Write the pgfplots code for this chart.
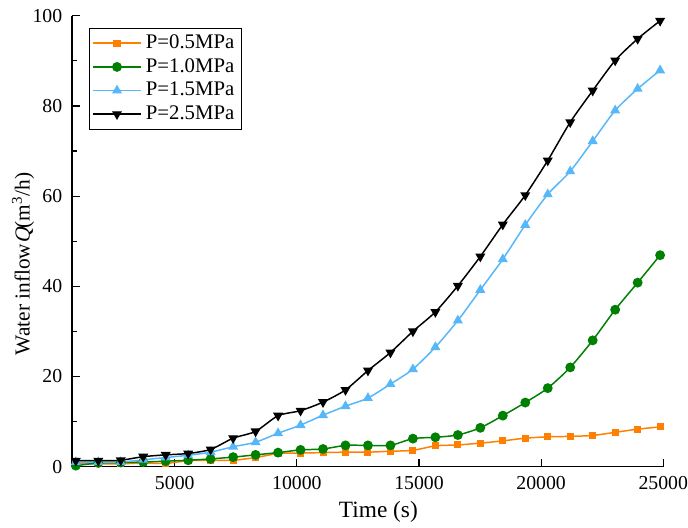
\documentclass[border=0pt]{standalone}
\usepackage{fontspec}
\setmainfont{Liberation Serif}
\newfontfamily\slantserif{Liberation Serif}[FakeSlant=0.22]
\usepackage{pgfplots}
\pgfplotsset{compat=1.18}
\definecolor{corange}{RGB}{255,128,0}
\definecolor{cgreen}{RGB}{0,128,0}
\definecolor{cblue}{RGB}{86,183,249}

\pgfplotstableread{
x      a    b     c     d
950    0.6  0.2   1.0   1.3
1870   0.6  0.8   1.0   1.3
2790   0.6  0.9   1.0   1.4
3710   0.8  1.0   1.5   2.2
4630   0.7  1.2   2.0   2.6
5550   1.3  1.4   2.5   2.9
6470   1.4  1.7   3.2   3.8
7390   1.4  2.1   4.4   6.3
8310   2.0  2.6   5.4   7.8
9230   2.9  3.1   7.4   11.3
10150  3.0  3.7   9.2   12.4
11070  3.1  3.9   11.4  14.3
11990  3.2  4.7   13.4  17.0
12910  3.2  4.7   15.2  21.3
13830  3.4  4.7   18.3  25.3
14750  3.6  6.2   21.6  30.0
15670  4.6  6.5   26.5  34.3
16590  4.8  7.0   32.4  40.1
17510  5.2  8.6   39.2  46.6
18430  5.7  11.3  46.0  53.7
19350  6.3  14.2  53.6  60.2
20270  6.6  17.4  60.4  67.9
21190  6.7  22.0  65.5  76.4
22110  6.9  28.0  72.2  83.4
23030  7.6  34.8  79.0  90.1
23950  8.3  40.8  83.8  94.9
24870  8.8  46.9  87.9  98.9
}\flow

\begin{document}
\begin{tikzpicture}
% page frame: axis box is 299pt x 228pt with its lower left corner at the origin
\path[use as bounding box] (-36.5pt,-31pt) rectangle (311.5pt,236pt);
\begin{axis}[
  at={(0,0)}, anchor=south west,
  scale only axis,
  width=299pt, height=228pt,
  xmin=800, xmax=25000,
  ymin=0, ymax=100,
  axis x line*=bottom, axis y line*=left,
  axis line style={line width=0.7pt},
  tick align=inside,
  tick style={black, line width=0.6pt},
  major tick length=4pt, minor tick length=2.5pt,
  scaled x ticks=false, scaled y ticks=false,
  xtick={5000,10000,15000,20000,25000},
  xticklabels={5000,10000,15000,20000,25000},
  ytick={0,20,40,60,80,100},
  yticklabels={0,20,40,60,80,100},
  minor ytick={10,30,50,70,90},
  tick label style={font=\rmfamily\fontsize{10}{12}\selectfont},
  xticklabel style={yshift=-1.5pt},
  yticklabel style={xshift=-1.5pt},
  xlabel={Time (s)},
  ylabel={Water inflow{\slantserif Q}(m\textsuperscript{3}/h)},
  every axis x label/.style={at={(rel axis cs:0.518,-0.101)}, anchor=center,
    font=\fontsize{11.8}{13}\selectfont},
  every axis y label/.style={at={(rel axis cs:-0.083,0.45)}, rotate=90, anchor=center,
    font=\fontsize{10.8}{13}\selectfont},
  legend style={at={(0.028,0.974)}, anchor=north west, draw=black, line width=0.4pt,
    font=\fontsize{10.5}{12}\selectfont, inner sep=1.5pt, row sep=-0.5pt,
    cells={anchor=west}},
  legend image code/.code={
    \draw[#1, mark repeat=2, mark phase=2] plot coordinates {(0cm,0cm) (0.43cm,0cm) (0.86cm,0cm)};
  },
  every axis plot/.append style={line width=0.75pt, smooth, tension=0.4},
]
\addplot[corange, mark=square*, mark size=1.4pt] table[x=x, y=a] {\flow};
\addlegendentry{P=0.5MPa}
\addplot[cgreen, mark=*, mark size=2.1pt] table[x=x, y=b] {\flow};
\addlegendentry{P=1.0MPa}
\addplot[cblue, mark=triangle*, mark size=2.2pt] table[x=x, y=c] {\flow};
\addlegendentry{P=1.5MPa}
\addplot[black, mark=triangle*, mark size=2.2pt, mark options={rotate=180}] table[x=x, y=d] {\flow};
\addlegendentry{P=2.5MPa}
\end{axis}
\end{tikzpicture}
\end{document}
